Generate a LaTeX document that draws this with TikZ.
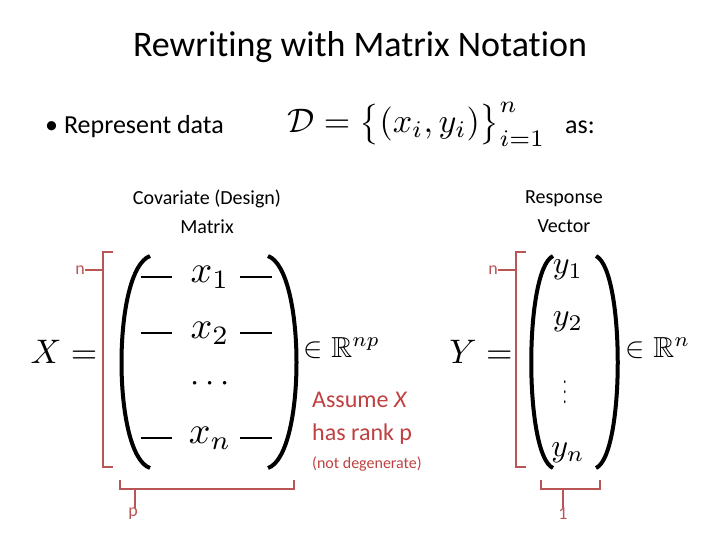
\documentclass[tikz,border=0pt]{standalone}
\usepackage{amssymb}
\usepackage{graphicx}
\usepackage{fontspec}
\setmainfont{Carlito}[RawFeature=-liga]
\definecolor{brk}{RGB}{185,85,85}
\definecolor{asm}{RGB}{192,64,64}
\newcommand{\mth}[2]{\scalebox{#1}{$#2$}}
\begin{document}
\begin{tikzpicture}[x=1pt,y=-1pt,
  brack/.style={draw=brk,line width=2.2pt},
  par/.style={draw=black,line width=4pt},
  lab/.style={inner sep=0pt,anchor=center},
  dsh/.style={draw=black,line width=2pt}]
\useasboundingbox (0,0) rectangle (720,540);
\node[lab] (title) at (360,47) {\fontsize{36}{40}\selectfont Rewriting with Matrix Notation};
\node[lab,anchor=west] (bul) at (45,127) {\fontsize{26}{30}\selectfont \textbullet\ Represent data};
\node[lab,anchor=west] (dm) at (287,124) {\mth{3.4}{\mathcal{D}=\bigl\{(x_i,y_i)\bigr\}_{i=1}^{n}}};
\node[lab,anchor=west] (as) at (565,127) {\fontsize{26}{30}\selectfont as:};
\node[lab,align=center,font=\fontsize{20}{29}\selectfont] (cov) at (207,212) {Covariate (Design)\\Matrix};
\node[lab,align=center,font=\fontsize{20}{29}\selectfont] (resp) at (564,212) {Response\\Vector};
% X side
\node[lab] (X) at (64,352) {\mth{3.4}{X=}};
\draw[par] (150,256) .. controls (112,270) and (112,455) .. (150,468);
\draw[par] (268,256) .. controls (306,270) and (306,455) .. (268,468);
\foreach \y/\t/\n in {277/x_1/r1,333/x_2/r2,438/x_n/rn}{
  \draw[dsh] (141,\y) -- (172,\y);
  \draw[dsh] (240,\y) -- (272,\y);
  \node[lab] (\n) at (210,\y) {\mth{3.8}{\t}};
}
\node[lab] (dots) at (210,384) {\mth{3.3}{\cdots}};
\node[lab] (inR) at (342,348) {\mth{2.9}{\in\mathbb{R}^{np}}};
\node[lab,anchor=west,text=asm,align=left,font=\fontsize{24}{33}\selectfont] (assume) at (312,418) {Assume \textit{X}\\has rank p};
\node[lab,anchor=west,text=asm] (nd) at (312,464) {\fontsize{16}{18}\selectfont (not degenerate)};
% X brackets
\draw[brack] (113,252) -- (103,252) -- (103,467) -- (113,467);
\coordinate (nl) at (103,270);
\node[lab,text=brk] (n1) at (80,270) {\fontsize{18}{20}\selectfont n};
\draw[brack] (nl) -- (n1.east);
\draw[brack] (120,480) -- (120,489) -- (294,489) -- (294,480);
\coordinate (pl) at (135,489);
\node[lab,text=brk] (p) at (133,514) {\fontsize{18}{20}\selectfont p};
\draw[brack] (pl) -- (pl |- p.north);
% Y side
\node[lab] (Y) at (481,352) {\mth{3.4}{Y=}};
\draw[par] (553,256) .. controls (524,270) and (524,455) .. (553,468);
\draw[par] (596,256) .. controls (625,270) and (625,455) .. (596,468);
\node[lab] (y1) at (568,270) {\mth{3.2}{y_1}};
\node[lab] (y2) at (568,322) {\mth{3.2}{y_2}};
\node[lab] (yd) at (565,385) {\scalebox{1.2}[2.4]{$\vdots$}};
\node[lab] (yn) at (568,453) {\mth{3.2}{y_n}};
\node[lab] (inRn) at (658,348) {\mth{2.9}{\in\mathbb{R}^{n}}};
\draw[brack] (526,252) -- (516,252) -- (516,467) -- (526,467);
\coordinate (nr) at (516,270);
\node[lab,text=brk] (n2) at (493,270) {\fontsize{18}{20}\selectfont n};
\draw[brack] (nr) -- (n2.east);
\draw[brack] (541,480) -- (541,489) -- (600,489) -- (600,480);
\coordinate (ol) at (563,489);
\node[lab,text=brk] (one) at (563,514) {\fontsize{18}{20}\selectfont 1};
\draw[brack] (ol) -- (one.north);
\end{tikzpicture}
\end{document}
